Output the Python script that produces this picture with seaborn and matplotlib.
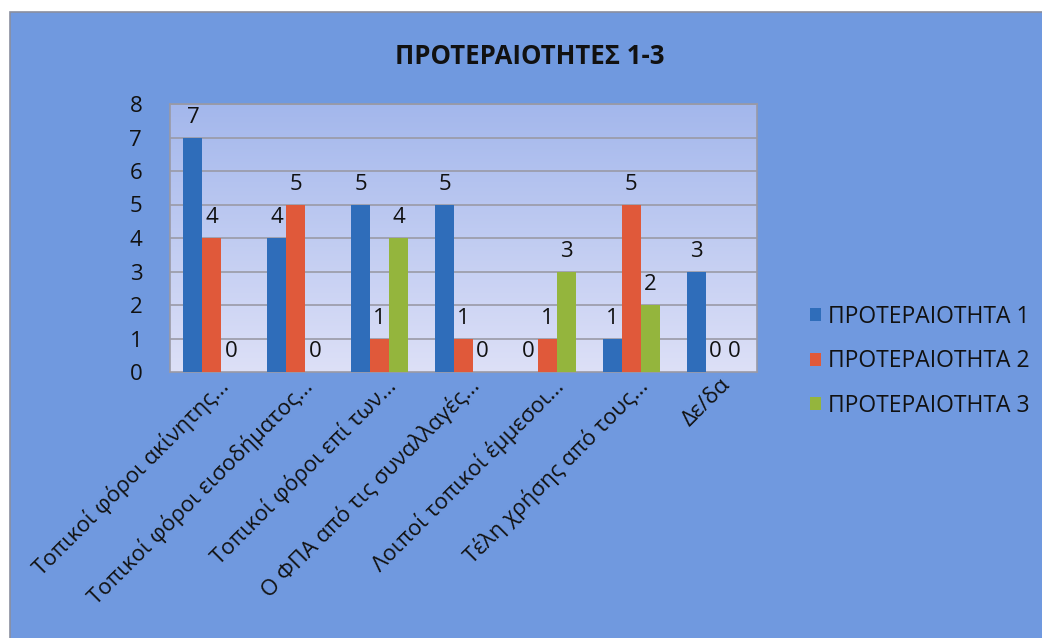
import numpy as np
import pandas as pd
import seaborn as sns
import matplotlib.pyplot as plt
import matplotlib.transforms as mtransforms
from matplotlib.patches import Rectangle
from matplotlib.colors import LinearSegmentedColormap

# -------------------------------
# data
# -------------------------------
categories = [
    "Τοπικοί φόροι ακίνητης...",
    "Τοπικοί φόροι εισοδήματος...",
    "Τοπικοί φόροι επί των...",
    "Ο ΦΠΑ από τις συναλλαγές...",
    "Λοιποί τοπικοί έμμεσοι...",
    "Τέλη χρήσης από τους...",
    "Δε/δα",
]
series_names = ["ΠΡΟΤΕΡΑΙΟΤΗΤΑ 1", "ΠΡΟΤΕΡΑΙΟΤΗΤΑ 2", "ΠΡΟΤΕΡΑΙΟΤΗΤΑ 3"]
priority_1 = [7, 4, 5, 5, 0, 1, 3]
priority_2 = [4, 5, 1, 1, 1, 5, 0]
priority_3 = [0, 0, 4, 0, 3, 2, 0]
y_ticks = [0, 1, 2, 3, 4, 5, 6, 7, 8]
title = "ΠΡΟΤΕΡΑΙΟΤΗΤΕΣ 1-3"

colors = ["#2F6DBA", "#E0593A", "#94B53D"]
bg_blue = "#7099DF"
ink = "#111111"

df = pd.DataFrame({
    "cat": categories * 3,
    "series": sum([[s] * len(categories) for s in series_names], []),
    "value": priority_1 + priority_2 + priority_3,
})

sns.set_theme(style="white")
plt.rcParams["font.family"] = ["Open Sans", "DejaVu Sans"]
plt.rcParams["text.color"] = ink
plt.rcParams["xtick.color"] = ink
plt.rcParams["ytick.color"] = ink

fig = plt.figure(figsize=(10.42, 6.38), dpi=100)
fig.patch.set_facecolor("white")
fig.patches.append(Rectangle((10 / 1042, -0.01), 1, 1.01 - 12 / 638, transform=fig.transFigure,
                             facecolor=bg_blue, edgecolor="#8a8fa0", lw=1.2, zorder=-10))

ax = fig.add_axes([170 / 1042, 1 - 372 / 638, 587 / 1042, 268 / 638])
sns.barplot(data=df, x="cat", y="value", hue="series", palette=colors,
            width=0.68, saturation=1, linewidth=0, ax=ax, zorder=3, legend=True)

# gradient plot area
grad_cmap = LinearSegmentedColormap.from_list("g", ["#DDE0F7", "#A3B7EC"])
grad = np.linspace(0, 1, 256).reshape(-1, 1)
ax.imshow(grad, cmap=grad_cmap, extent=[-0.5, 6.5, 0, 8], aspect="auto",
          origin="lower", zorder=0)
ax.set_xlim(-0.5, 6.5)
ax.set_ylim(0, 8)
ax.set_yticks(y_ticks)
ax.tick_params(axis="y", labelsize=16, pad=20, length=0)
ax.tick_params(axis="x", length=0, pad=2)
for y in y_ticks[1:]:
    ax.axhline(y, color="#9a9aa6", lw=1.2, zorder=1)
for s in ax.spines.values():
    s.set_color("#9a9aa6")
    s.set_linewidth(1.2)

ax.set_xticks(range(len(categories)))
ax.set_xticklabels(categories, rotation=45, ha="right", rotation_mode="anchor",
                   fontsize=16)
shift = mtransforms.ScaledTranslation(5 / 100, 0, fig.dpi_scale_trans)
for lbl in ax.get_xticklabels():
    lbl.set_transform(lbl.get_transform() + shift)
ax.set_xlabel("")
ax.set_ylabel("")

# value labels
for cont in ax.containers:
    ax.bar_label(cont, fontsize=16, padding=7, color=ink)

leg = ax.legend(loc="center left", bbox_to_anchor=(1.055, 0.04), frameon=False,
                fontsize=16.5, handlelength=0.5, handleheight=0.5,
                handletextpad=0.3, labelspacing=0.9)
for t in leg.get_texts():
    t.set_color(ink)

fig.text(530 / 1042, 1 - 57 / 638, title, ha="center", va="center",
         fontsize=18.5, fontweight="bold", color=ink,
         family=["Open Sans", "DejaVu Sans"])

fig.savefig("out.png", dpi=100, facecolor=fig.get_facecolor())
